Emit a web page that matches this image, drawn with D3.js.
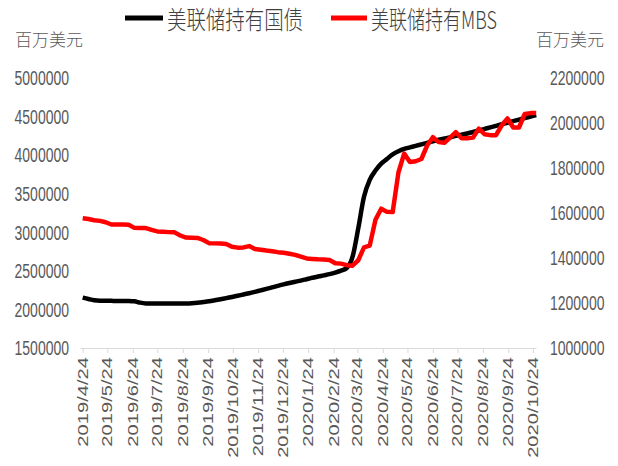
<!DOCTYPE html>
<html>
<head>
<meta charset="utf-8">
<script src="https://cdn.jsdelivr.net/npm/d3@7"></script>
<style>
  body { margin: 0; background: #fff; }
  text { font-family: "Liberation Sans", Arial, sans-serif; }
  .cjk { font-family: "Noto Sans CJK SC", sans-serif; }
</style>
</head>
<body>
<div id="chart"></div>
<script>
// weekly data, first week and monthly tick labels
const firstWeek = "2019/4/24";
const tickLabels = ["2019/4/24", "2019/5/24", "2019/6/24", "2019/7/24", "2019/8/24", "2019/9/24",
  "2019/10/24", "2019/11/24", "2019/12/24", "2020/1/24", "2020/2/24", "2020/3/24", "2020/4/24",
  "2020/5/24", "2020/6/24", "2020/7/24", "2020/8/24", "2020/9/24", "2020/10/24"];
const leftTicks = [1500000, 2000000, 2500000, 3000000, 3500000, 4000000, 4500000, 5000000];
const rightTicks = [1000000, 1200000, 1400000, 1600000, 1800000, 2000000, 2200000];
const seriesNames = ["美联储持有国债", "美联储持有MBS"];

// 美联储持有国债 (left axis, 百万美元)
const treasury = [
  2154000, 2135000, 2118000, 2112000, 2112000, 2111000, 2110000, 2110000, 2109000, 2105000,
  2088000, 2078000, 2076000, 2076000, 2076000, 2076000, 2076000, 2076000, 2077000, 2080000,
  2086000, 2095000, 2105000, 2118000, 2132000, 2147000, 2162000, 2178000, 2194000, 2210000,
  2228000, 2247000, 2266000, 2286000, 2306000, 2325000, 2342000, 2358000, 2374000, 2392000,
  2410000, 2426000, 2442000, 2458000, 2478000, 2503000, 2537000, 2680000, 3050000, 3460000,
  3680000, 3800000, 3890000, 3950000, 4010000, 4050000, 4080000, 4100000, 4120000, 4140000,
  4160000, 4180000, 4200000, 4215000, 4230000, 4250000, 4265000, 4280000, 4300000, 4320000,
  4340000, 4360000, 4380000, 4400000, 4420000, 4440000, 4460000, 4480000, 4500000, 4520000
];

// 美联储持有MBS (right axis, 百万美元)
const mbs = [
  1577000, 1573000, 1568000, 1565000, 1559000, 1549000, 1549000, 1549000, 1548000, 1534000,
  1533000, 1533000, 1525000, 1518000, 1517000, 1515000, 1514000, 1500000, 1491000, 1490000,
  1489000, 1480000, 1466000, 1465000, 1464000, 1462000, 1450000, 1446000, 1447000, 1453000,
  1440000, 1437000, 1433000, 1430000, 1426000, 1423000, 1419000, 1414000, 1406000, 1398000,
  1396000, 1394000, 1393000, 1391000, 1377000, 1375000, 1368000, 1366000, 1390000, 1447000,
  1455000, 1570000, 1619000, 1605000, 1604000, 1780000, 1864000, 1827000, 1830000, 1840000,
  1900000, 1937000, 1915000, 1912000, 1935000, 1959000, 1932000, 1932000, 1935000, 1975000,
  1950000, 1946000, 1946000, 1990000, 2020000, 1980000, 1980000, 2040000, 2044000, 2044000
];

const width = 618;
const height = 466;
const parse = d3.timeParse("%Y/%m/%d");
const start = parse(firstWeek);
const dates = treasury.map((d, i) => d3.timeDay.offset(start, 7 * i));

const svg = d3.select("#chart").append("svg")
  .attr("width", width)
  .attr("height", height);

const x = d3.scaleTime()
  .domain([start, dates[dates.length - 1]])
  .range([82.7, 536.2]);
const yLeft = d3.scaleLinear().domain([1500000, 5000000]).range([348, 78]);
const yRight = d3.scaleLinear().domain([1000000, 2200000]).range([348, 78]);

// x axis
const xAxis = svg.append("g")
  .attr("transform", "translate(0,348)")
  .call(d3.axisBottom(x)
    .tickValues(tickLabels.map(parse))
    .tickSize(5)
    .tickSizeOuter(0)
    .tickFormat(""));
xAxis.select(".domain").attr("stroke", "#d9d9d9").attr("d", "M80.5,0.5H536.5");
xAxis.selectAll(".tick line").attr("stroke", "#d9d9d9");

svg.append("g").selectAll("text")
  .data(tickLabels)
  .join("text")
  .attr("transform", d => `translate(${x(parse(d))},357) rotate(-90) scale(1.44,1)`)
  .attr("text-anchor", "end")
  .attr("dy", "0.35em")
  .attr("font-size", 14)
  .attr("fill", "#595959")
  .text(d => d);

// y tick labels
svg.append("g").selectAll("text")
  .data(leftTicks)
  .join("text")
  .attr("transform", d => `translate(69,${yLeft(d)}) scale(1,1.45)`)
  .attr("text-anchor", "end")
  .attr("dy", "0.36em")
  .attr("font-size", 14)
  .attr("fill", "#595959")
  .text(d => d);

svg.append("g").selectAll("text")
  .data(rightTicks)
  .join("text")
  .attr("transform", d => `translate(550,${yRight(d)}) scale(1,1.45)`)
  .attr("text-anchor", "start")
  .attr("dy", "0.36em")
  .attr("font-size", 14)
  .attr("fill", "#595959")
  .text(d => d);

// unit labels
[[15, "start"], [604, "end"]].forEach(([ux, anchor]) => {
  svg.append("text")
    .attr("class", "cjk")
    .attr("transform", `translate(${ux},40) scale(1,1.1)`)
    .attr("text-anchor", anchor)
    .attr("dy", "0.36em")
    .attr("font-size", 16)
    .attr("font-weight", 300)
    .attr("textLength", 68)
    .attr("lengthAdjust", "spacingAndGlyphs")
    .attr("fill", "#595959")
    .text("百万美元");
});

// lines
const lineLeft = d3.line()
  .x((d, i) => x(dates[i]))
  .y(d => yLeft(d))
  .curve(d3.curveMonotoneX);
const lineRight = d3.line()
  .x((d, i) => x(dates[i]))
  .y(d => yRight(d));

svg.append("path")
  .datum(treasury)
  .attr("fill", "none")
  .attr("stroke", "#000")
  .attr("stroke-width", 4.5)
  .attr("stroke-linejoin", "round")
  .attr("d", lineLeft);

svg.append("path")
  .datum(mbs)
  .attr("fill", "none")
  .attr("stroke", "#ff0000")
  .attr("stroke-width", 4.5)
  .attr("stroke-linejoin", "round")
  .attr("d", lineRight);

// legend
const legend = [
  { name: seriesNames[0], color: "#000", x1: 125, x2: 163, tx: 167, len: 136 },
  { name: seriesNames[1], color: "#ff0000", x1: 331, x2: 367, tx: 371, len: 126 }
];
legend.forEach(l => {
  svg.append("line")
    .attr("x1", l.x1).attr("x2", l.x2)
    .attr("y1", 18).attr("y2", 18)
    .attr("stroke", l.color)
    .attr("stroke-width", 5);
  svg.append("text")
    .attr("class", "cjk")
    .attr("transform", `translate(${l.tx},20) scale(1,1.3)`)
    .attr("dy", "0.36em")
    .attr("font-size", 19)
    .attr("font-weight", 300)
    .attr("textLength", l.len)
    .attr("lengthAdjust", "spacingAndGlyphs")
    .attr("fill", "#404040")
    .text(l.name);
});
</script>
</body>
</html>
